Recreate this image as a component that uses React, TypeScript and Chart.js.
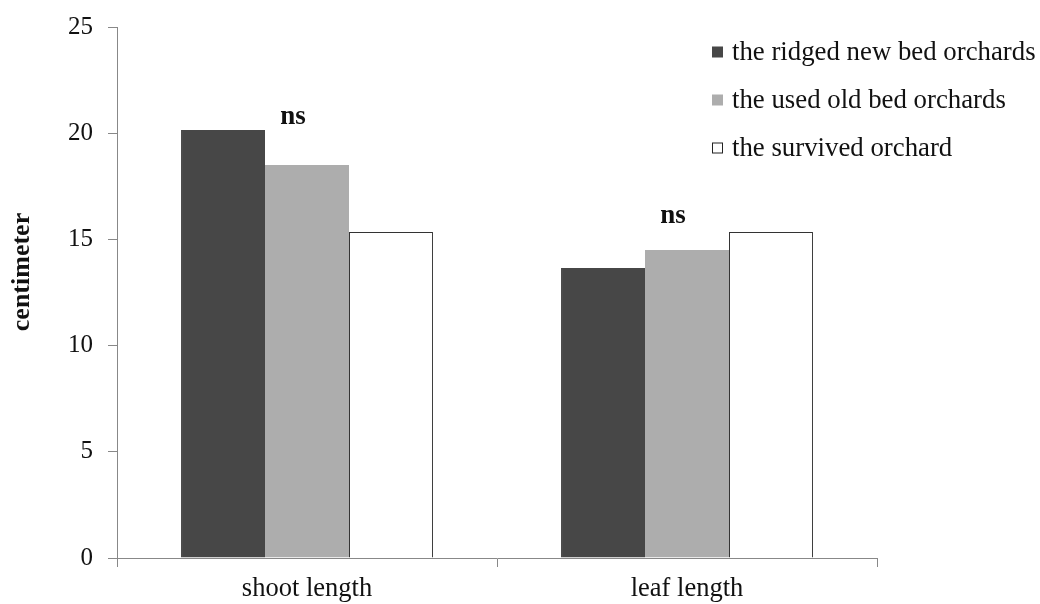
import React, { useEffect, useRef } from "react";
import { Chart, registerables } from "chart.js";

Chart.register(...registerables);

const categories = ["shoot length", "leaf length"];
const seriesNames = ["the ridged new bed orchards", "the used old bed orchards", "the survived orchard"];
const ridgedNew = [20.15, 13.65];
const usedOld = [18.5, 14.5];
const survived = [15.35, 15.35];
const nsLabels = ["ns", "ns"];
const nsValues = [20.75, 16.1];
const yTicks = [0, 5, 10, 15, 20, 25];
const yTitle = "centimeter";

const FONT = "'Liberation Serif', 'Times New Roman', serif";
const fills = ["#474747", "#adadad", "#ffffff"];
const borders = ["#474747", "#adadad", "#333333"];

export default function App() {
  const ref = useRef<HTMLCanvasElement | null>(null);
  useEffect(() => {
    if (!ref.current) return;
    const legendPlugin = {
      id: "customLegend",
      afterDraw(chart: any) {
        const ctx = chart.ctx;
        ctx.save();
        ctx.font = `26.8px ${FONT}`;
        ctx.textBaseline = "middle";
        ctx.textAlign = "left";
        const ys = [52, 100, 148];
        seriesNames.forEach((name, i) => {
          const y = ys[i];
          ctx.fillStyle = fills[i];
          ctx.fillRect(712, y - 5.5, 11, 11);
          if (i === 2) {
            ctx.strokeStyle = "#222";
            ctx.lineWidth = 1;
            ctx.strokeRect(712.5, y - 5, 10, 10);
          }
          ctx.fillStyle = "#111";
          ctx.fillText(name, 732, y + 1);
        });
        // ns annotations
        const meta = chart.getDatasetMeta(1);
        const yScale = chart.scales.y;
        ctx.font = `bold 27px ${FONT}`;
        ctx.textAlign = "center";
        nsLabels.forEach((lab, i) => {
          const el = meta.data[i];
          ctx.fillText(lab, el.x - 14, yScale.getPixelForValue(nsValues[i]));
        });
        // y title
        ctx.translate(22, 272);
        ctx.rotate(-Math.PI / 2);
        ctx.font = `bold 26px ${FONT}`;
        ctx.fillText(yTitle, 0, 0);
        ctx.restore();
      },
    };
    const chart = new Chart(ref.current, {
      type: "bar",
      data: {
        labels: categories,
        datasets: [ridgedNew, usedOld, survived].map((d, i) => ({
          label: seriesNames[i],
          data: d,
          backgroundColor: fills[i],
          borderColor: borders[i],
          borderWidth: 1,
          categoryPercentage: 0.663,
          barPercentage: 1,
        })),
      },
      options: {
        animation: false,
        responsive: false,
        maintainAspectRatio: false,
        layout: { padding: { top: 27, right: 163, left: 0, bottom: 0 } },
        plugins: { legend: { display: false }, tooltip: { enabled: false } },
        scales: {
          x: {
            grid: { display: true, drawOnChartArea: false, drawTicks: true, tickLength: 9, color: "#888", offset: true },
            border: { color: "#888", width: 1 },
            ticks: { color: "#111", font: { family: FONT, size: 26.5 }, padding: 6 },
            afterFit(scale: any) { scale.height = 46; scale.paddingLeft = 0; scale.paddingRight = 0; },
          },
          y: {
            min: 0,
            max: 25,
            afterBuildTicks(scale: any) { scale.ticks = yTicks.map((v) => ({ value: v })); },
            grid: { display: true, drawOnChartArea: false, drawTicks: true, tickLength: 9, color: "#888" },
            border: { color: "#888", width: 1 },
            ticks: { color: "#111", font: { family: FONT, size: 25 }, padding: 15 },
            afterFit(scale: any) { scale.width = 117; scale.paddingTop = 0; scale.paddingBottom = 0; },
          },
        },
      },
      plugins: [legendPlugin],
    });
    return () => chart.destroy();
  }, []);
  return (
    <div style={{ position: "fixed", left: 0, top: 0, width: 1040, height: 604, background: "#fff" }}>
      <canvas ref={ref} width={1040} height={604} style={{ width: 1040, height: 604 }} />
    </div>
  );
}
